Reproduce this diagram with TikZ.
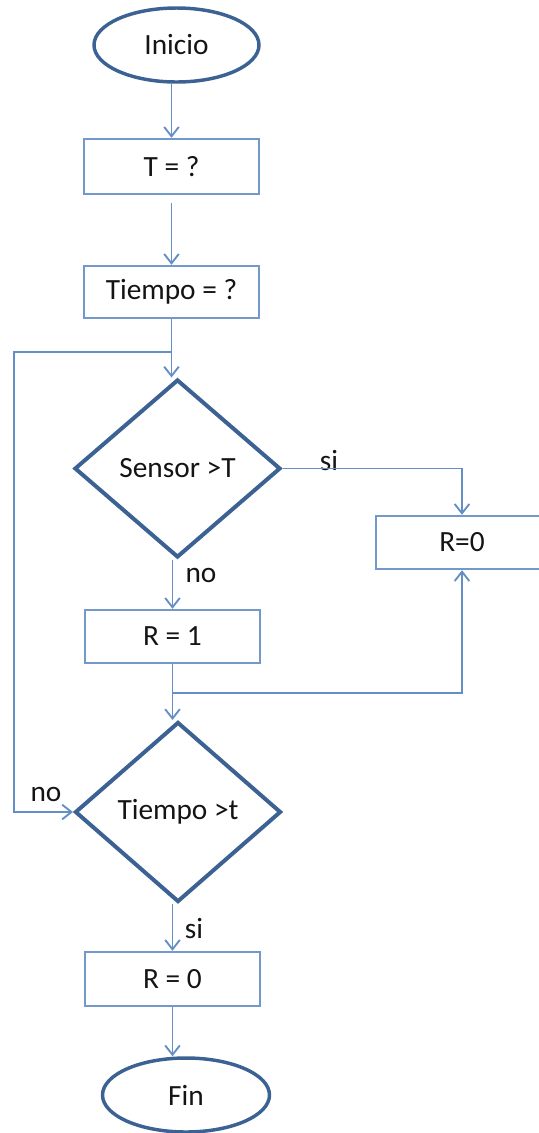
\documentclass[tikz,border=0pt]{standalone}
\usepackage{fontspec}
\setmainfont{Carlito}
\usetikzlibrary{shapes.geometric,arrows.meta}
\definecolor{boxblue}{RGB}{115,153,204}
\definecolor{connblue}{RGB}{100,142,198}
\definecolor{darkblue}{RGB}{60,98,148}
\definecolor{txt}{RGB}{20,20,20}
\tikzset{
  base/.style={inner sep=0pt, text=txt, font=\fontsize{22}{26}\selectfont},
  procbox/.style={base, rectangle, draw=boxblue, line width=1.8pt, minimum width=175*0.75pt},
  term/.style={base, ellipse, draw=darkblue, line width=2.6pt, minimum width=165*0.75pt, minimum height=74*0.75pt},
  decis/.style={base, diamond, draw=darkblue, line width=3pt, minimum width=206*0.75pt, minimum height=178*0.75pt},
  conn/.style={draw=connblue, line width=1.4pt},
  arr/.style={conn, -{Straight Barb[length=7pt,width=11pt,line width=1.4pt]}},
  lbl/.style={base}
}
\begin{document}
\begin{tikzpicture}[x=0.75pt,y=-0.75pt]
\useasboundingbox (0,0) rectangle (539,1133);
\clip (0,0) rectangle (539,1133);
% nodes
\node[term] (ini) at (176.5,45) {Inicio};
\node[procbox, minimum height=55*0.75pt] (T) at (171.5,166.5) {T = ?};
\node[procbox, minimum height=52*0.75pt] (Tm) at (171.5,292) {Tiempo = ?};
\node[decis] (D1) at (177.5,468.5) {Sensor >T};
\node[procbox, minimum height=53*0.75pt, minimum width=172*0.75pt] (R0r) at (462,542.5) {R=0};
\node[procbox, minimum height=53*0.75pt] (R1) at (172.5,636.5) {R = 1};
\node[decis, minimum height=180*0.75pt] (D2) at (178,812) {Tiempo >t};
\node[procbox, minimum height=54*0.75pt] (R0) at (172.5,979) {R = 0};
\node[term, minimum width=167*0.75pt] (fin) at (186,1095) {Fin};
% labels
\node[lbl] (si1) at (329,461) {si};
\node[lbl] (no1) at (201,575) {no};
\node[lbl] (no2) at (46,794) {no};
\node[lbl] (si2) at (194,929) {si};
% junctions
\coordinate (J1) at (171.5,352);
\coordinate (L1) at (14,352);
\coordinate (J2) at (172.5,693);
% connectors
\draw[arr] (T.north |- ini.south) -- (T.north);
\draw[arr] ([yshift=-6pt]T.south) -- (Tm.north);
\draw[arr] (Tm.south) -- (Tm.south |- D1.north);
\draw[arr] (J1) -- (L1) |- (D2.west);
\draw[arr] (D1.east) -| (R0r.north);
\draw[arr] (R1.north |- D1.south) -- (R1.north);
\draw[arr] (R1.south) -- (R1.south |- D2.north);
\draw[arr] (J2) -| (R0r.south);
\draw[arr] (R0.north |- D2.south) -- (R0.north);
\draw[arr] (R0.south) -- (R0.south |- fin.north);
\end{tikzpicture}
\end{document}
